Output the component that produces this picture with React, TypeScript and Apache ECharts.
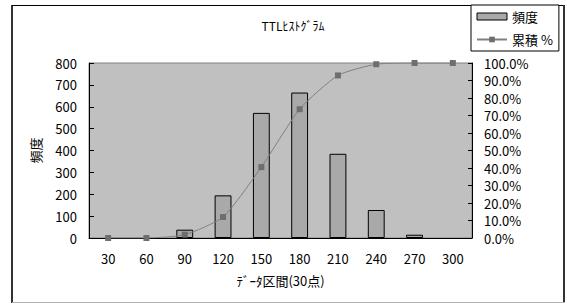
import React, { useEffect, useRef } from "react";
import * as echarts from "echarts";

const categories = ["30", "60", "90", "120", "150", "180", "210", "240", "270", "300"];
const frequency = [0, 0, 38, 195, 572, 665, 385, 128, 15, 0];
const cumulativePct = [0, 0, 1.9, 12.0, 40.5, 73.6, 92.9, 99.3, 100, 100];

const titleText = "TTLﾋｽﾄｸﾞﾗﾑ";
const xName = "ﾃﾞｰﾀ区間(30点)";
const yName = "頻度";
const seriesBar = "頻度";
const seriesLine = "累積 %";

const FONT = "'Noto Sans CJK JP', 'Noto Sans', sans-serif";

export default function App() {
  const ref = useRef<HTMLDivElement>(null);
  useEffect(() => {
    if (!ref.current) return;
    const chart = echarts.init(ref.current, undefined, { renderer: "svg" });
    chart.setOption({
      animation: false,
      textStyle: { fontFamily: FONT, color: "#000" },
      title: {
        text: titleText,
        left: 288,
        top: 14,
        textAlign: "center",
        textStyle: { fontSize: 12, fontWeight: "normal", color: "#000", fontFamily: FONT },
      },
      legend: {
        orient: "vertical",
        left: 471,
        top: 5,
        width: 87,
        padding: [5, 6, 5, 5],
        itemGap: 10,
        itemWidth: 30,
        itemHeight: 7,
        borderColor: "#000",
        borderWidth: 1,
        backgroundColor: "#fff",
        textStyle: { fontSize: 13, color: "#000", fontFamily: FONT },
        data: [
          { name: seriesBar, icon: "rect", itemStyle: { borderWidth: 1, borderColor: "#000", color: "#a9a9a9" } },
          { name: seriesLine },
        ],
      },
      grid: {
        left: 89,
        right: 95,
        top: 63,
        bottom: 66,
        show: true,
        backgroundColor: "#c0c0c0",
        borderColor: "#808080",
        borderWidth: 1,
      },
      xAxis: {
        type: "category",
        data: categories,
        boundaryGap: true,
        name: xName,
        nameLocation: "middle",
        nameGap: 36,
        nameTextStyle: { fontSize: 13, color: "#000", fontFamily: FONT },
        axisLine: { lineStyle: { color: "#000", width: 1 } },
        axisTick: { inside: true, length: 4, lineStyle: { color: "#000" } },
        axisLabel: { fontSize: 13, color: "#000", margin: 14, fontFamily: FONT },
        splitLine: { show: false },
      },
      yAxis: [
        {
          type: "value",
          min: 0,
          max: 800,
          interval: 100,
          name: yName,
          nameLocation: "middle",
          nameGap: 47,
          nameRotate: 90,
          nameTextStyle: { fontSize: 13, color: "#000", fontFamily: FONT },
          axisLine: { show: true, lineStyle: { color: "#000", width: 1 } },
          axisTick: { show: true, inside: true, length: 5, lineStyle: { color: "#000" } },
          axisLabel: { fontSize: 13, color: "#000", margin: 12, fontFamily: FONT },
          splitLine: { show: false },
        },
        {
          type: "value",
          min: 0,
          max: 100,
          interval: 10,
          position: "right",
          axisLine: { show: true, lineStyle: { color: "#000", width: 1 } },
          axisTick: { show: true, inside: true, length: 4, lineStyle: { color: "#000" } },
          axisLabel: {
            fontSize: 13,
            color: "#000",
            margin: 12,
            fontFamily: FONT,
            formatter: (v: number) => v.toFixed(1) + "%",
          },
          splitLine: { show: false },
        },
      ],
      series: [
        {
          name: seriesBar,
          type: "bar",
          data: frequency.map((v) => (v === 0 ? null : v)),
          barWidth: "44%",
          itemStyle: { color: "#a9a9a9", borderColor: "#000", borderWidth: 1 },
        },
        {
          name: seriesLine,
          type: "line",
          yAxisIndex: 1,
          data: cumulativePct,
          smooth: 0.2,
          symbol: "rect",
          symbolSize: 6,
          lineStyle: { color: "#808080", width: 1 },
          itemStyle: { color: "#6e6e6e" },
        },
      ],
      graphic: [
        { type: "rect", shape: { x: 11, y: 5, width: 2, height: 298 }, style: { fill: "#333" }, silent: true },
        { type: "rect", shape: { x: 12, y: 5, width: 552, height: 1 }, style: { fill: "#000" }, silent: true },
        { type: "rect", shape: { x: 563, y: 5, width: 2, height: 298 }, style: { fill: "#333" }, silent: true },
        { type: "rect", shape: { x: 12, y: 302, width: 553, height: 1 }, style: { fill: "#b0b0b0" }, silent: true },
      ],
    });
    return () => chart.dispose();
  }, []);
  return (
    <div
      ref={ref}
      style={{ position: "absolute", left: 0, top: 0, width: 567, height: 304 }}
    />
  );
}
